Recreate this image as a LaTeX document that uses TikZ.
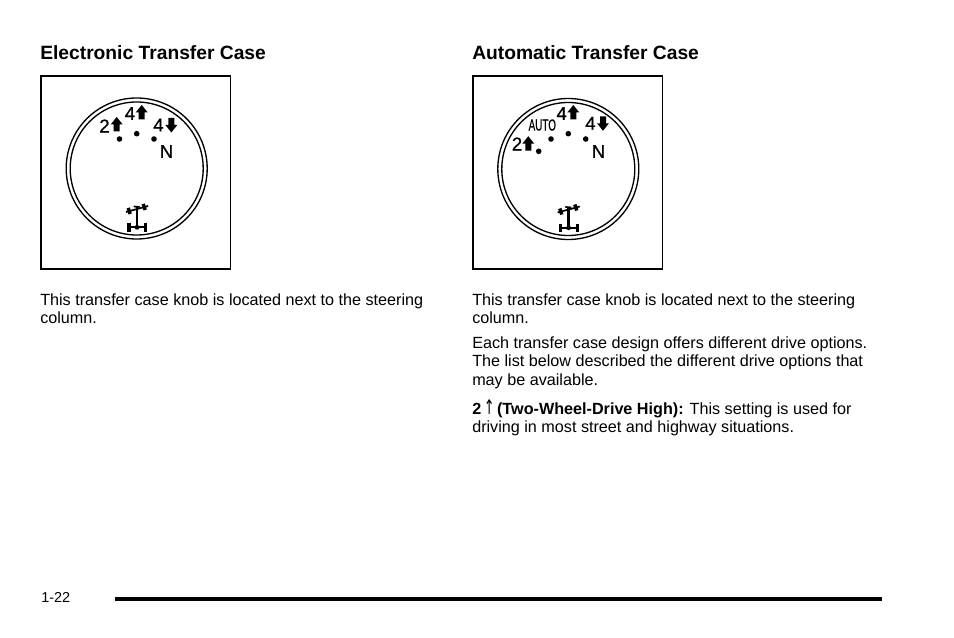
\documentclass[tikz,border=0pt]{standalone}
\usepackage{fontspec}
\usepackage{graphicx}
\setmainfont{Liberation Sans}
\newfontfamily\symfont{DejaVu Sans}
\newfontfamily\knobfont[RawFeature={embolden=0.6}]{Liberation Sans}
\usetikzlibrary{positioning}

\tikzset{
  heading/.style={inner sep=0pt, anchor=base west, font=\bfseries\fontsize{14.43}{16}\selectfont},
  bodytext/.style={inner sep=0pt, anchor=north west, align=left, font=\fontsize{12.13}{13.75}\selectfont},
  framebox/.style={draw, line width=1.1pt, minimum width=142pt, minimum height=145pt, inner sep=0pt},
  knoblabel/.style={inner sep=0pt, font=\knobfont\fontsize{14}{16}\selectfont},
  knobdot/.style={circle, fill, inner sep=0pt, minimum size=4.2pt},
  knobarrow/.pic={
    \fill (0,-7.5) -- (6,0) -- (3,0) -- (3,7) -- (-3,7) -- (-3,0) -- (-6,0) -- cycle;
  },
  knobring/.pic={
    \draw[line width=1pt] (0,0) circle (70.5);
    \draw[line width=1pt] (0,0) circle (66.5);
    % axle symbol
    \draw[line width=1.3pt] (-10.7,43.5) -- (11.5,37.5);
    \draw[line width=2.6pt] (-6.5,45.5) -- (-8.5,39.5) (8.5,41.5) -- (6.5,35.5);
    \draw[line width=1.3pt] (-3,38) -- (3,38.5);
    \draw[line width=1.8pt] (0.3,39) -- (0.3,59);
    \draw[line width=1.8pt] (-7.7,58.8) -- (9,58.8);
    \draw[line width=2.6pt] (-7.7,54.8) -- (-7.7,63.2) (9,54.8) -- (9,63.2);
    \fill (0.3,58.8) circle (2.4);
  }
}

\begin{document}
\begin{tikzpicture}[x=0.75pt, y=-0.75pt]
  \useasboundingbox (0,0) rectangle (954,638);

  % left column
  \node[heading] (titleL) at (40,60) {Electronic Transfer Case};
  \node[framebox] (boxL) at (135.8,172.5) {};
  \pic at (136.7,168.5) {knobring};
  \node[knobdot] (dotLa) at (119.5,139) {};
  \node[knobdot] (dotLb) at (136.7,133.7) {};
  \node[knobdot] (dotLc) at (154,139) {};
  \node[knoblabel] (twoL) at (104.5,126) {2};
  \pic at (116.7,124.5) {knobarrow};
  \node[knoblabel] (fourLa) at (130,113.5) {4};
  \pic at (141.7,112.5) {knobarrow};
  \node[knoblabel] (fourLb) at (158.5,125) {4};
  \pic[yscale=-1] at (171.3,125) {knobarrow};
  \node[knoblabel] (enL) at (166.5,151.5) {N};
  \node[bodytext] (textL) at (40,293.5) {This transfer case knob is located next to the steering\\column.};

  % right column
  \node[heading] (titleR) at (472,60) {Automatic Transfer Case};
  \node[framebox] (boxR) at (567.8,172.5) {};
  \pic at (568.3,169) {knobring};
  \node[knobdot] (dotRa) at (538.7,151.3) {};
  \node[knobdot] (dotRb) at (551,139) {};
  \node[knobdot] (dotRc) at (568.3,133.7) {};
  \node[knobdot] (dotRd) at (585.7,139) {};
  \node[knoblabel] (twoR) at (517,144) {2};
  \pic at (528.3,143.7) {knobarrow};
  \node[knoblabel, font=\knobfont\fontsize{12}{13}\selectfont] (autoR) at (542.3,125) {\scalebox{0.62}[1]{AUTO}};
  \node[knoblabel] (fourRa) at (561.7,113.5) {4};
  \pic at (573.3,112.5) {knobarrow};
  \node[knoblabel] (fourRb) at (590.5,123.3) {4};
  \pic[yscale=-1] at (603,123.3) {knobarrow};
  \node[knoblabel] (enR) at (598.5,151.5) {N};
  \node[bodytext] (textRa) at (472,293.5) {This transfer case knob is located next to the steering\\column.};
  \node[bodytext, below=9.25pt of textRa.south west, anchor=north west] (textRb) {Each transfer case design offers different drive options.\\The list below described the different drive options that\\may be available.};
  \node[bodytext, below=10.2pt of textRb.south west, anchor=north west] (textRc) {\textbf{2\hspace{2pt}\smash{\mdseries\symfont\scalebox{0.8}[1.25]{↑}}\hspace{1.75pt}(Two-Wheel-Drive High):}\hspace{4.5pt}This setting is used for\\driving in most street and highway situations.};

  % footer
  \node[bodytext, font=\fontsize{10.8}{13}\selectfont] (pageno) at (41,592) {1-22};
  \fill (115,597) rectangle (882,601);
\end{tikzpicture}
\end{document}
